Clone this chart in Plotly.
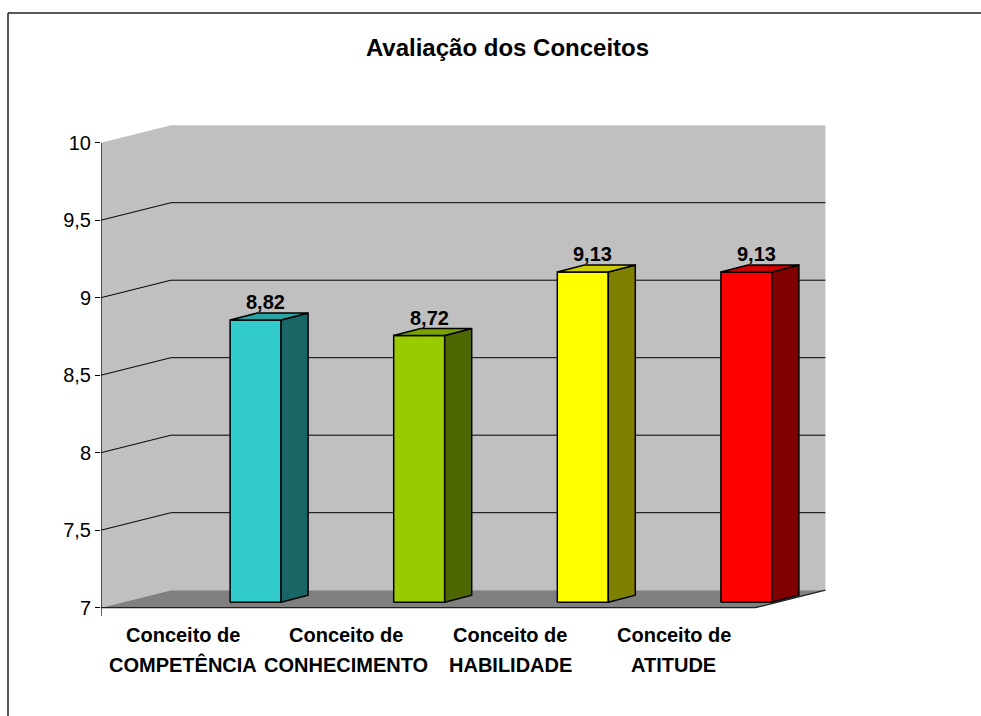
import plotly.graph_objects as go

# ---- data -------------------------------------------------------------
categories = ["Conceito de<br>COMPETÊNCIA", "Conceito de<br>CONHECIMENTO",
              "Conceito de<br>HABILIDADE", "Conceito de<br>ATITUDE"]
values = [8.82, 8.72, 9.13, 9.13]
value_labels = ["8,82", "8,72", "9,13", "9,13"]
front_colors = ["#33CCCC", "#99CC00", "#FFFF00", "#FF0000"]
side_colors = ["#1A6666", "#4D6600", "#808000", "#800000"]
top_colors = ["#29A3A3", "#7AA300", "#CCCC00", "#CC0000"]
y_ticks = [7, 7.5, 8, 8.5, 9, 9.5, 10]
y_tick_labels = ["7", "7,5", "8", "8,5", "9", "9,5", "10"]

# ---- geometry of the pseudo-3D box ------------------------------------
FIG_W, FIG_H = 981, 716
L, R_EDGE, T, B = 101, 827, 125, 616          # plot area in pixels
PX_X, PX_Y = 163.6, 155.0                      # pixels per unit
W, H = R_EDGE - L, B - T
Y0, Y1 = y_ticks[0], y_ticks[-1]
ymax = Y1 + 17.7 / PX_Y
ymin = ymax - H / PX_Y
xmin = -0.5
xmax = xmin + W / PX_X
n = len(categories)
xr = n - 0.5

WDX, WDY = 70 / PX_X, 17.5 / PX_Y              # depth of the walls
BX, BHW = 0.445, 25.5 / PX_X                   # bar centre shift, half width
BDY = 5.5 / PX_Y                               # bar lift above front edge
DDX, DDY = 27 / PX_X, 7 / PX_Y                 # bar depth


def px_x(px):
    return (px - L) / W


def px_y(py):
    return (B - py) / H


fig = go.Figure()


def poly(xs, ys, fill, line_color=None, width=0):
    fig.add_trace(go.Scatter(
        x=list(xs) + [xs[0]], y=list(ys) + [ys[0]], mode="lines",
        fill="toself", fillcolor=fill,
        line=dict(color=line_color or fill, width=width),
        hoverinfo="skip", showlegend=False))


def line(xs, ys, color="black", width=1):
    fig.add_trace(go.Scatter(x=xs, y=ys, mode="lines",
                             line=dict(color=color, width=width),
                             hoverinfo="skip", showlegend=False))


# walls and floor
poly([xmin, xmin, xmin + WDX, xmin + WDX], [Y0, Y1, Y1 + WDY, Y0 + WDY], "#C0C0C0")
poly([xmin + WDX, xr + WDX, xr + WDX, xmin + WDX],
     [Y0 + WDY, Y0 + WDY, Y1 + WDY, Y1 + WDY], "#C0C0C0")
poly([xmin, xr, xr + WDX, xmin + WDX], [Y0, Y0, Y0 + WDY, Y0 + WDY], "#808080")

# gridlines on side and back walls
for v in y_ticks[1:-1]:
    line([xmin, xmin + WDX, xr + WDX], [v, v + WDY, v + WDY])

# floor front edge and value axis
line([xmin, xr, xr + WDX], [Y0, Y0, Y0 + WDY], "#202020", 1.2)
line([xmin, xmin], [ymin, Y1], "black", 1.2)

# bars: front, side and top faces
for i, v in enumerate(values):
    xl, xrr = i + BX - BHW, i + BX + BHW
    yb, yt = Y0 + BDY, v + BDY
    poly([xl, xrr, xrr, xl], [yb, yb, yt, yt], front_colors[i], "black", 1.5)
    poly([xrr, xrr + DDX, xrr + DDX, xrr], [yb, yb + DDY, yt + DDY, yt],
         side_colors[i], "black", 1.5)
    poly([xl, xrr, xrr + DDX, xl + DDX], [yt, yt, yt + DDY, yt + DDY],
         top_colors[i], "black", 1.5)

FONT = "Arial, Liberation Sans, sans-serif"
annotations = []
for i, v in enumerate(values):
    annotations.append(dict(
        x=i + BX + 10 / PX_X, y=v + BDY + DDY, xref="x", yref="y",
        text="<b>%s</b>" % value_labels[i], showarrow=False,
        xanchor="center", yanchor="bottom", yshift=-2,
        font=dict(family=FONT, size=20, color="black")))

for i, cat in enumerate(categories):
    for k, part in enumerate(cat.split("<br>")):
        annotations.append(dict(
            x=i, y=px_y(634.5 + 30 * k), xref="x", yref="paper",
            text="<b>%s</b>" % part, showarrow=False,
            xanchor="center", yanchor="middle",
            font=dict(family=FONT, size=20, color="black")))

# chart area border
shapes = [
    dict(type="line", xref="paper", yref="paper",
         x0=px_x(8), x1=px_x(8), y0=px_y(13), y1=px_y(FIG_H + 5),
         line=dict(color="#222222", width=1.5)),
    dict(type="line", xref="paper", yref="paper",
         x0=px_x(8), x1=px_x(FIG_W + 5), y0=px_y(13), y1=px_y(13),
         line=dict(color="#222222", width=1.5)),
]

fig.update_layout(
    width=FIG_W, height=FIG_H,
    margin=dict(l=L, r=FIG_W - R_EDGE, t=T, b=FIG_H - B, pad=0),
    paper_bgcolor="white", plot_bgcolor="white",
    title=dict(text="<b>Avaliação dos Conceitos</b>", x=507.5 / FIG_W,
               xanchor="center", y=1 - 47.7 / FIG_H, yanchor="middle",
               yref="container", font=dict(family=FONT, size=24, color="black")),
    xaxis=dict(range=[xmin, xmax], showgrid=False, zeroline=False,
               showline=False, showticklabels=False, ticks="", fixedrange=True),
    yaxis=dict(range=[ymin, ymax], showgrid=False, zeroline=False,
               showline=False, tickvals=y_ticks, ticktext=y_tick_labels,
               ticks="outside", ticklen=5, tickcolor="black", tickwidth=1,
               tickfont=dict(family=FONT, size=20, color="black"),
               fixedrange=True),
    annotations=annotations, shapes=shapes, showlegend=False,
)

fig.write_html("out.html")
